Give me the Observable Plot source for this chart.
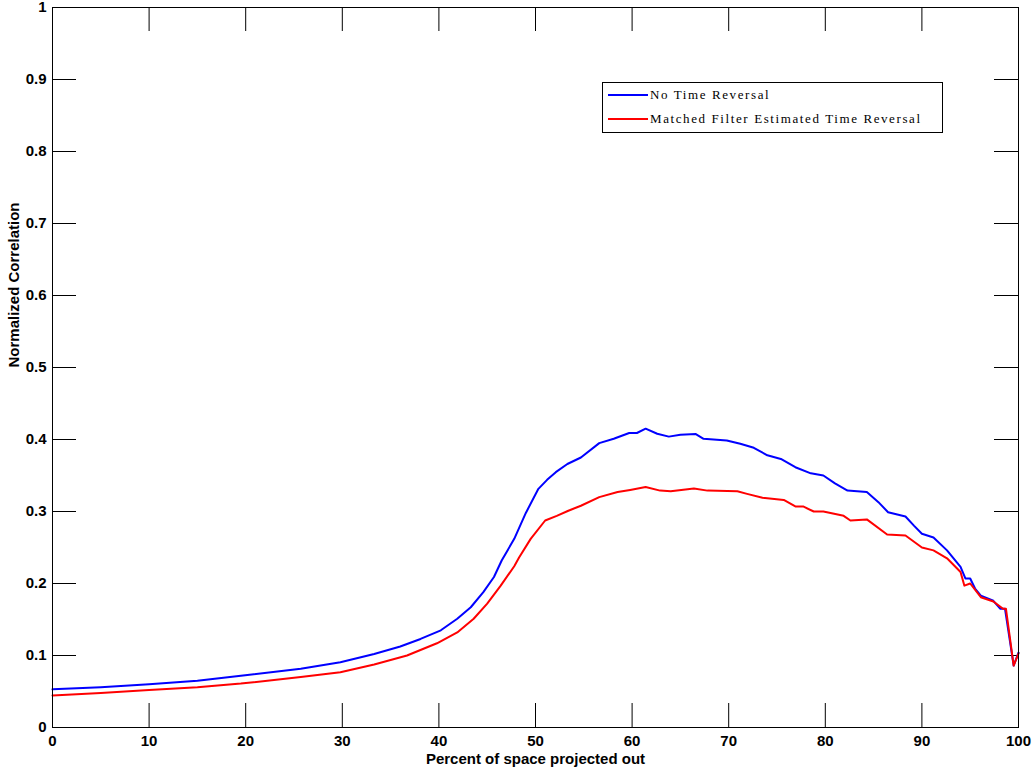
<!DOCTYPE html>
<html>
<head>
<meta charset="utf-8">
<script src="https://cdn.jsdelivr.net/npm/d3@7"></script>
<script src="https://cdn.jsdelivr.net/npm/@observablehq/plot@0.6"></script>
<style>
  html, body { margin: 0; padding: 0; background: #fff; }
  #wrap { position: relative; width: 1035px; height: 774px; }
  #legend {
    position: absolute; left: 602px; top: 82px; width: 341px; height: 51px;
    box-sizing: border-box; border: 1px solid #000; background: #fff;
    font-family: "Liberation Serif", "Times New Roman", serif; font-size: 13px;
    letter-spacing: 1.6px; color: #000;
  }
  .row { display: flex; align-items: center; height: 24px; }
  .swatch { width: 40px; height: 0; border-top: 2px solid; margin-left: 5px; margin-right: 2px; }
</style>
</head>
<body>
<div id="wrap"></div>
<script>
// ---- data ----
const seriesNames = ["No Time Reversal", "Matched Filter Estimated Time Reversal"];
const seriesColors = ["#0000ff", "#ff0000"];

const noTRx = [0,5,10,15,19.5,25.7,29.8,33.3,36,38.1,40.2,41.9,43.3,44.6,45.7,46.5,47.8,49,50.3,51.2,52.1,53.3,54.7,56.6,58.1,59.7,60.5,61.4,62.6,63.8,65,66.6,67.4,69.8,71.2,72.6,74,75.4,76.9,78.5,79.8,81,82.3,83.3,84.3,85.5,86.5,88.3,89.2,90,91.2,92.6,94,94.5,95,95.5,96.1,97.4,98.1,98.6,99.5,100];
const noTRy = [0.053,0.056,0.060,0.065,0.072,0.0815,0.0907,0.102,0.1125,0.123,0.135,0.151,0.167,0.188,0.209,0.232,0.262,0.298,0.3315,0.344,0.3546,0.366,0.375,0.395,0.401,0.409,0.409,0.415,0.408,0.404,0.4065,0.4075,0.401,0.3986,0.394,0.3885,0.378,0.373,0.3615,0.353,0.35,0.339,0.329,0.328,0.327,0.313,0.299,0.293,0.28,0.269,0.264,0.246,0.223,0.207,0.207,0.193,0.183,0.176,0.165,0.165,0.086,0.104];

const mfTRx = [0,5,10,15,19.5,25.7,29.8,33.3,36.7,39.8,41.9,43.6,45,46.4,47.8,48.3,49.5,51,52.2,53.4,54.7,56.6,58.5,59.8,61.4,62.9,64,66.4,67.8,70.9,71.9,73.5,75.7,76.9,77.7,78.8,79.8,81.9,82.6,84.3,86.4,88.3,90,91.2,92.6,94,94.4,95,96.1,97.4,98.4,98.7,99.5,100];
const mfTRy = [0.0445,0.048,0.052,0.056,0.061,0.070,0.0768,0.0875,0.100,0.117,0.132,0.151,0.172,0.197,0.224,0.236,0.262,0.2875,0.294,0.301,0.308,0.320,0.327,0.330,0.334,0.329,0.328,0.332,0.329,0.328,0.3245,0.319,0.316,0.307,0.307,0.300,0.300,0.294,0.2875,0.289,0.268,0.2667,0.25,0.246,0.235,0.216,0.197,0.200,0.181,0.175,0.165,0.165,0.086,0.103];

const xTicks = [0,10,20,30,40,50,60,70,80,90,100];
const yTicks = [0,0.1,0.2,0.3,0.4,0.5,0.6,0.7,0.8,0.9,1];
const yTickLabels = ["0","0.1","0.2","0.3","0.4","0.5","0.6","0.7","0.8","0.9","1"];
const xTitle = "Percent of space projected out";
const yTitle = "Normalized Correlation";

// ---- build ----
const W = 1035, H = 774, mL = 52, mR = 17, mT = 7, mB = 47;
const fw = W - mL - mR, fh = H - mT - mB, tick = 24;

const rows = [
  ...noTRx.map((x, i) => ({x, y: noTRy[i], s: seriesNames[0]})),
  ...mfTRx.map((x, i) => ({x, y: mfTRy[i], s: seriesNames[1]}))
];
const innerX = xTicks.slice(1, -1);
const innerY = yTicks.slice(1, -1);

const chart = Plot.plot({
  width: W, height: H,
  marginLeft: mL, marginRight: mR, marginTop: mT, marginBottom: mB,
  style: {fontFamily: "'Liberation Sans', Arial, sans-serif", fontSize: "15px", fontWeight: "bold", color: "#000", background: "#fff", overflow: "visible"},
  x: {domain: [0, 100]},
  y: {domain: [0, 1]},
  color: {domain: seriesNames, range: seriesColors},
  marks: [
    Plot.axisX({ticks: xTicks, tickSize: 0, tickPadding: 8, label: null, tickFormat: d => String(d)}),
    Plot.axisY({ticks: yTicks, tickSize: 0, tickPadding: 6, label: null, tickFormat: (d, i) => yTickLabels[i]}),
    Plot.tickX(innerX, {x: d => d, insetTop: fh - tick, stroke: "#000"}),
    Plot.tickX(innerX, {x: d => d, insetBottom: fh - tick, stroke: "#000"}),
    Plot.tickY(innerY, {y: d => d, insetRight: fw - tick, stroke: "#000"}),
    Plot.tickY(innerY, {y: d => d, insetLeft: fw - tick, stroke: "#000"}),
    Plot.line(rows, {x: "x", y: "y", z: "s", stroke: "s", strokeWidth: 2, curve: "linear"}),
    Plot.frame({stroke: "#000"}),
    Plot.text([xTitle], {text: d => d, frameAnchor: "bottom", dy: 36, fontSize: 15, fontWeight: "bold"}),
    Plot.text([yTitle], {text: d => d, frameAnchor: "left", dx: -38, rotate: -90, fontSize: 15, fontWeight: "bold"})
  ]
});

const wrap = document.getElementById("wrap");
wrap.appendChild(chart);

const legend = document.createElement("div");
legend.id = "legend";
seriesNames.forEach((name, i) => {
  const row = document.createElement("div");
  row.className = "row";
  const sw = document.createElement("div");
  sw.className = "swatch";
  sw.style.borderTopColor = seriesColors[i];
  const label = document.createElement("span");
  label.textContent = name;
  row.appendChild(sw);
  row.appendChild(label);
  legend.appendChild(row);
});
wrap.appendChild(legend);
</script>
</body>
</html>
